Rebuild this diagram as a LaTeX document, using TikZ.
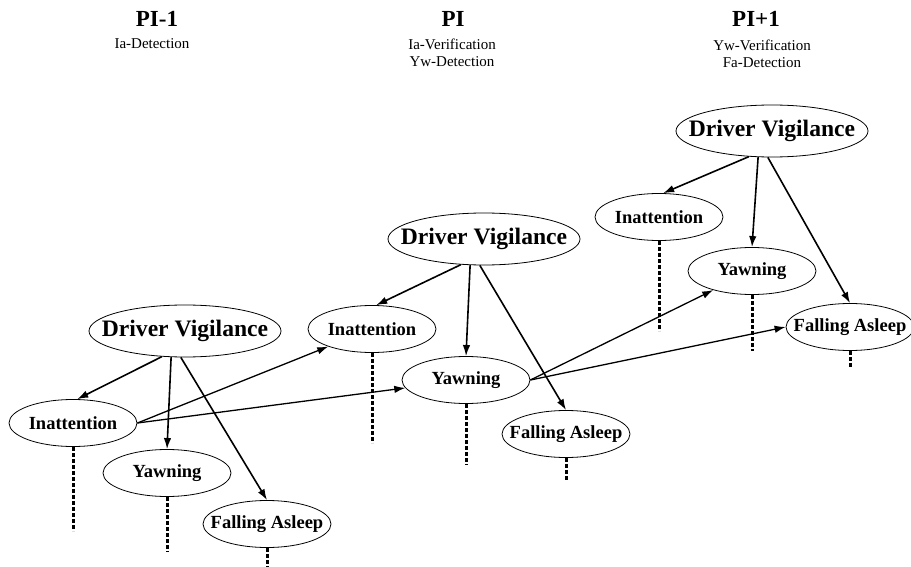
\documentclass[tikz,border=0pt]{standalone}
\usepackage{fontspec}
\setmainfont{Liberation Serif}
\usetikzlibrary{shapes, arrows.meta, positioning, calc}

\tikzset{
  vigil/.style={draw, ellipse, line width=0.8pt, inner xsep=-20pt, inner ysep=0pt,
    minimum width=192pt, minimum height=52pt, font=\fontsize{23.6}{26}\selectfont\bfseries},
  evid/.style={draw, ellipse, line width=0.8pt, inner xsep=-20pt, inner ysep=0pt,
    minimum width=128pt, minimum height=47pt, font=\fontsize{18.5}{20}\selectfont\bfseries},
  dep/.style={-{Latex[length=11pt,width=7.5pt]}, line width=1.6pt},
  temp/.style={dep, line width=1.3pt},
  obs/.style={line width=3pt, dash pattern=on 4pt off 2pt},
  slice/.style={font=\fontsize{23}{26}\selectfont\bfseries, anchor=base},
  task/.style={font=\fontsize{15}{17}\selectfont, align=center, anchor=north, inner sep=0pt}
}

\begin{document}
\begin{tikzpicture}[x=1pt, y=-1pt]
  \useasboundingbox (0,0) rectangle (911,567);

  % Slice PI-1
  \node[slice] (pim1) at (157,27) {PI-1};
  \node[task] (pim1task) at (152,38) {Ia-Detection};
  \node[vigil] (dv1) at (185,331) {Driver Vigilance};
  \node[evid] (ia1) at (73,423) {Inattention};
  \node[evid] (yw1) at (167,473) {Yawning};
  \node[evid] (fa1) at (267,524) {Falling Asleep};

  % Slice PI
  \node[slice] (pi) at (453,27) {PI};
  \node[task] (pitask) at (452,39) {Ia-Verification\\Yw-Detection};
  \node[vigil] (dv2) at (484,239) {Driver Vigilance};
  \node[evid] (ia2) at (372,329) {Inattention};
  \node[evid] (yw2) at (466,380) {Yawning};
  \node[evid] (fa2) at (566,434) {Falling Asleep};

  % Slice PI+1
  \node[slice] (pip1) at (756,27) {PI+1};
  \node[task] (pip1task) at (762,40) {Yw-Verification\\Fa-Detection};
  \node[vigil] (dv3) at (772,131) {Driver Vigilance};
  \node[evid] (ia3) at (659,217) {Inattention};
  \node[evid] (yw3) at (752,271) {Yawning};
  \node[evid] (fa3) at (850,327) {Falling Asleep};

  % Vigilance -> symptoms in each slice
  \foreach \s in {1,2,3} {
    \draw[dep] (dv\s.228) -- (ia\s.80);
    \draw[dep] (dv\s.242) -- (yw\s.north);
    \draw[dep] (dv\s.261) -- (fa\s.north);
  }

  % Links between slices
  \draw[temp] (ia1.east) -- (ia2);
  \draw[temp] (ia1.east) -- (yw2);
  \draw[temp] (yw2.east) -- (yw3);
  \draw[temp] (yw2.east) -- (fa3.west);

  % Observations
  \foreach \n/\l in {ia1/84, yw1/55, fa1/19, ia2/90, yw2/61, fa2/22, ia3/90, yw3/56, fa3/16}
    \draw[obs] (\n.south) -- ++(0,\l);
\end{tikzpicture}
\end{document}
